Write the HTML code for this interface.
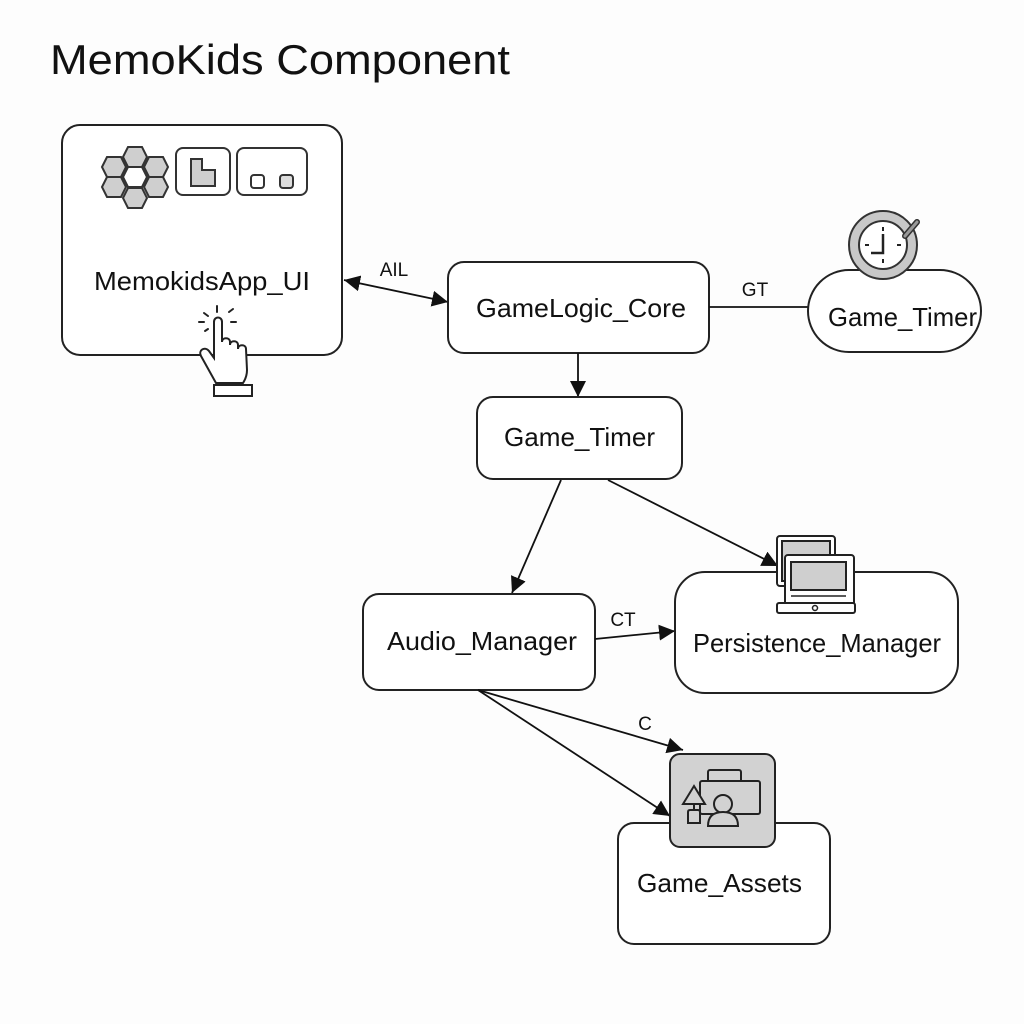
<!DOCTYPE html>
<html><head><meta charset="utf-8"><style>
html,body{margin:0;padding:0;background:#fdfdfd;}
svg{display:block;}
text{font-family:"Liberation Sans",sans-serif;fill:#111;}
</style></head><body>
<svg width="1024" height="1024" viewBox="0 0 1024 1024" xmlns="http://www.w3.org/2000/svg">
<defs>
<marker id="ahb" viewBox="0 0 10 10" refX="10" refY="5" markerWidth="16" markerHeight="16" markerUnits="userSpaceOnUse" orient="auto-start-reverse">
<path d="M0,0 L10,5 L0,10 z" fill="#111"/>
</marker>
</defs>
<rect width="1024" height="1024" fill="#fdfdfd"/>
<text x="50" y="74" font-size="42" textLength="460" lengthAdjust="spacingAndGlyphs">MemoKids Component</text>

<!-- Box 1 -->
<rect x="62" y="125" width="280" height="230" rx="18" fill="#fff" stroke="#222" stroke-width="2"/>
<g fill="#cfcfcf" stroke="#333" stroke-width="2">
<polygon points="123,157 128,147 142,147 147,157 142,167 128,167"/>
<polygon points="123,198 128,188 142,188 147,198 142,208 128,208"/>
<polygon points="102,167 107,157 121,157 126,167 121,177 107,177"/>
<polygon points="144,167 149,157 163,157 168,167 163,177 149,177"/>
<polygon points="102,187 107,177 121,177 126,187 121,197 107,197"/>
<polygon points="144,187 149,177 163,177 168,187 163,197 149,197"/>
<polygon points="123,177 128,167 142,167 147,177 142,187 128,187" fill="#fff"/>
</g>
<rect x="176" y="148" width="54" height="47" rx="7" fill="#fff" stroke="#333" stroke-width="2"/>
<path d="M191,159 L202,159 L202,170 L215,170 L215,186 L191,186 Z" fill="#cfcfcf" stroke="#333" stroke-width="2"/>
<rect x="237" y="148" width="70" height="47" rx="7" fill="#fff" stroke="#333" stroke-width="2"/>
<rect x="251" y="175" width="13" height="13" rx="3" fill="#fff" stroke="#333" stroke-width="2"/>
<rect x="280" y="175" width="13" height="13" rx="3" fill="#ddd" stroke="#333" stroke-width="2"/>
<text x="94" y="290" font-size="26" textLength="216" lengthAdjust="spacingAndGlyphs">MemokidsApp_UI</text>
<!-- hand -->
<g stroke="#222" stroke-width="2" fill="#fff" stroke-linecap="round">
<path d="M216,383 L201,356 C198,350 205,346 209,351 L214,358 L214,322 C214,316 222,316 222,322 L222,342 C222,337 230,337 230,342 L230,345 C230,340 238,340 238,345 L238,349 C238,344 246,344 246,349 L247,370 C247,376 245,380 243,383 Z"/>
<rect x="214" y="385" width="38" height="11" fill="#fff"/>
<line x1="217" y1="306" x2="217" y2="312"/>
<line x1="204" y1="313" x2="208" y2="316"/>
<line x1="229" y1="312" x2="233" y2="309"/>
<line x1="199" y1="322" x2="204" y2="322"/>
<line x1="231" y1="322" x2="236" y2="322"/>
<line x1="205" y1="331" x2="208" y2="329"/>
</g>

<!-- AIL -->
<line x1="344" y1="280" x2="448" y2="302" stroke="#111" stroke-width="1.8" marker-start="url(#ahb)" marker-end="url(#ahb)"/>
<text x="394" y="276" font-size="19" text-anchor="middle">AIL</text>

<!-- GameLogic_Core -->
<rect x="448" y="262" width="261" height="91" rx="16" fill="#fff" stroke="#222" stroke-width="2"/>
<text x="476" y="317" font-size="26" textLength="210" lengthAdjust="spacingAndGlyphs">GameLogic_Core</text>

<!-- GT -->
<line x1="709" y1="307" x2="808" y2="307" stroke="#111" stroke-width="1.8"/>
<text x="755" y="296" font-size="19" text-anchor="middle">GT</text>

<!-- Game_Timer pill -->
<rect x="808" y="270" width="173" height="82" rx="41" fill="#fff" stroke="#222" stroke-width="2"/>
<circle cx="883" cy="245" r="29" fill="#fff" stroke="#c8c8c8" stroke-width="10"/>
<circle cx="883" cy="245" r="34" fill="none" stroke="#333" stroke-width="2"/>
<circle cx="883" cy="245" r="24" fill="#fff" stroke="#333" stroke-width="2"/>
<g stroke="#222" stroke-width="2">
<line x1="883" y1="227" x2="883" y2="231"/><line x1="883" y1="259" x2="883" y2="263"/>
<line x1="865" y1="245" x2="869" y2="245"/><line x1="897" y1="245" x2="901" y2="245"/>
<polyline points="883,234 883,253 871,253" fill="none" stroke-width="2.5"/>
</g>
<line x1="905" y1="236" x2="917" y2="222" stroke="#333" stroke-width="6" stroke-linecap="round"/>
<line x1="905" y1="236" x2="917" y2="222" stroke="#999" stroke-width="3" stroke-linecap="round"/>
<text x="828" y="326" font-size="26" textLength="149" lengthAdjust="spacingAndGlyphs">Game_Timer</text>

<!-- down arrow -->
<line x1="578" y1="353" x2="578" y2="397" stroke="#111" stroke-width="1.8" marker-end="url(#ahb)"/>

<!-- Game_Timer box -->
<rect x="477" y="397" width="205" height="82" rx="16" fill="#fff" stroke="#222" stroke-width="2"/>
<text x="504" y="446" font-size="26" textLength="151" lengthAdjust="spacingAndGlyphs">Game_Timer</text>

<line x1="561" y1="480" x2="512" y2="593" stroke="#111" stroke-width="1.8" marker-end="url(#ahb)"/>
<line x1="608" y1="480" x2="778" y2="566" stroke="#111" stroke-width="1.8" marker-end="url(#ahb)"/>

<!-- Audio_Manager -->
<rect x="363" y="594" width="232" height="96" rx="16" fill="#fff" stroke="#222" stroke-width="2"/>
<text x="387" y="650" font-size="26" textLength="190" lengthAdjust="spacingAndGlyphs">Audio_Manager</text>

<!-- CT -->
<line x1="595" y1="639" x2="675" y2="631" stroke="#111" stroke-width="1.8" marker-end="url(#ahb)"/>
<text x="623" y="626" font-size="19" text-anchor="middle">CT</text>

<!-- Persistence_Manager -->
<rect x="675" y="572" width="283" height="121" rx="30" fill="#fff" stroke="#222" stroke-width="2"/>
<g stroke="#222" stroke-width="2">
<rect x="777" y="536" width="58" height="50" rx="3" fill="#fff"/>
<rect x="782" y="541" width="48" height="40" fill="#cfcfcf"/>
<rect x="785" y="555" width="69" height="58" rx="3" fill="#fff"/>
<rect x="791" y="562" width="55" height="28" fill="#cfcfcf"/>
<line x1="791" y1="596" x2="846" y2="596" stroke-width="1.5"/>
<rect x="777" y="603" width="78" height="10" rx="2" fill="#fff"/>
<circle cx="815" cy="608" r="2.5" fill="#fff" stroke-width="1.5"/>
</g>
<text x="693" y="652" font-size="26" textLength="248" lengthAdjust="spacingAndGlyphs">Persistence_Manager</text>

<!-- C arrows -->
<line x1="478" y1="690" x2="683" y2="750" stroke="#111" stroke-width="1.8" marker-end="url(#ahb)"/>
<line x1="478" y1="690" x2="670" y2="816" stroke="#111" stroke-width="1.8" marker-end="url(#ahb)"/>
<text x="645" y="730" font-size="19" text-anchor="middle">C</text>

<!-- Game_Assets -->
<rect x="618" y="823" width="212" height="121" rx="16" fill="#fff" stroke="#222" stroke-width="2"/>
<rect x="670" y="754" width="105" height="93" rx="10" fill="#d2d2d2" stroke="#222" stroke-width="2"/>
<g stroke="#222" stroke-width="2" fill="none">
<rect x="708" y="770" width="33" height="12" rx="2"/>
<rect x="700" y="781" width="60" height="33" rx="2" fill="#d2d2d2"/>
<path d="M683,804 L694,786 L705,804 Z" fill="#d2d2d2"/>
<line x1="694" y1="804" x2="694" y2="810"/>
<path d="M688,823 L688,812 Q688,810 690,810 L698,810 Q700,810 700,812 L700,823 Z"/>
<circle cx="723" cy="804" r="9" fill="#d2d2d2"/>
<path d="M708,826 Q708,812 723,812 Q738,812 738,826 Z" fill="#d2d2d2"/>
</g>
<text x="637" y="892" font-size="26" textLength="165" lengthAdjust="spacingAndGlyphs">Game_Assets</text>
</svg>
</body></html>
